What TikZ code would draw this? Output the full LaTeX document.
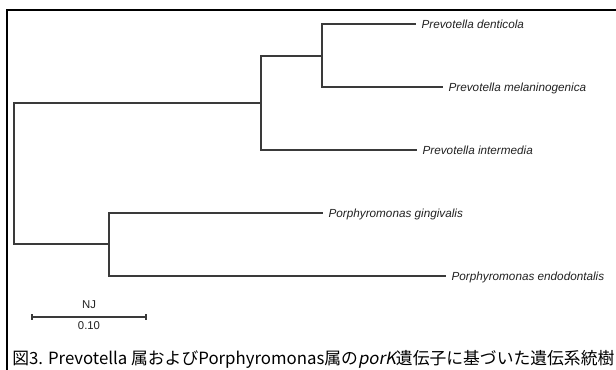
\documentclass[tikz,border=0pt]{standalone}
\usepackage{fontspec}
\setmainfont{Liberation Sans}
\newfontfamily\jp{Noto Sans CJK JP}
\newfontfamily\jpit[FakeSlant=0.2]{Noto Sans CJK JP}
\definecolor{treegray}{HTML}{3A3A3A}
\definecolor{labelgray}{HTML}{222222}
\tikzset{
  branch/.style={draw=treegray, line width=0.9pt},
  leaf/.style={anchor=west, inner xsep=4pt, inner ysep=0pt, text height=1.6ex, text depth=0.3ex,
    font=\itshape\fontsize{8.8}{10}\selectfont, text=labelgray},
  scaletext/.style={font=\fontsize{8.5}{9}\selectfont, text=labelgray, inner sep=0pt},
  frame/.style={draw=black, line width=1.2pt}
}
\begin{document}
\begin{tikzpicture}[x=0.75pt, y=-0.75pt]
\useasboundingbox (0,0) rectangle (616,370);
\clip (0,0) rectangle (616,370);
\fill[white] (0,0) rectangle (616,370);
% frame
\draw[frame] (7,372) -- (7,10) -- (618,10);
% internal nodes
\coordinate (root) at (14,173);
\coordinate (nA) at (261,103);
\coordinate (nB) at (322,56);
\coordinate (nC) at (109,244);
% leaves
\node[leaf] (dent) at (416,24) {Prevotella denticola};
\node[leaf] (mel)  at (443,87) {Prevotella melaninogenica};
\node[leaf] (inter) at (417,150) {Prevotella intermedia};
\node[leaf] (ging) at (323,213) {Porphyromonas gingivalis};
\node[leaf] (endo) at (446,276) {Porphyromonas endodontalis};
% branches
\draw[branch] (nA) -| (root) |- (nC);
\draw[branch] (nA) |- (nB);
\draw[branch] (nA) |- (inter.west);
\draw[branch] (nB) |- (dent.west);
\draw[branch] (nB) |- (mel.west);
\draw[branch] (nC) |- (ging.west);
\draw[branch] (nC) |- (endo.west);
% scale bar
\coordinate (sbL) at (32,317);
\coordinate (sbR) at (146,317);
\draw[branch, line width=0.8pt] (sbL) -- (sbR);
\draw[branch, line width=0.8pt] ([yshift=2.25pt]sbL) -- ([yshift=-2.25pt]sbL);
\draw[branch, line width=0.8pt] ([yshift=2.25pt]sbR) -- ([yshift=-2.25pt]sbR);
\node[scaletext] (nj) at (89,305) {NJ};
\node[scaletext] (sb) at (89,326) {0.10};
% caption
\node[anchor=base west, inner sep=0pt, font=\jp\fontsize{12.6}{15}\selectfont] (cap) at (12,364)
  {図3. Prevotella 属およびPorphyromonas属の{\jpit porK}遺伝子に基づいた遺伝系統樹};
\end{tikzpicture}
\end{document}
